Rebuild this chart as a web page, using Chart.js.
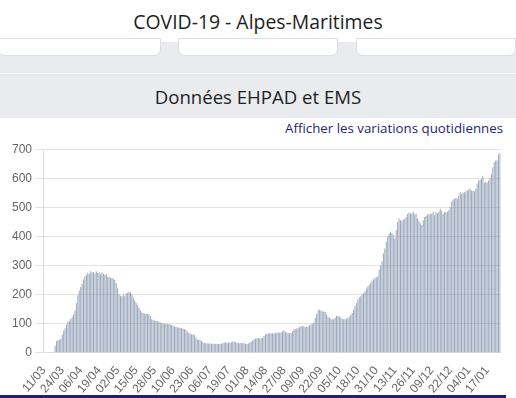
<!DOCTYPE html>
<html lang="fr">
<head>
<meta charset="utf-8">
<title>COVID-19 - Alpes-Maritimes</title>
<script src="https://cdn.jsdelivr.net/npm/chart.js@4"></script>
<style>
  html, body { margin: 0; padding: 0; background: #fff; }
  body { width: 516px; height: 398px; position: relative; overflow: hidden; font-family: "Open Sans", sans-serif; }
  .titre { position: absolute; top: 0; left: 0; width: 516px; height: 42px; line-height: 44px; text-align: center; font-size: 19.4px; font-weight: 500; color: #1e1e1e; }
  .bande { position: absolute; top: 42px; left: 0; width: 516px; height: 76px; background: #e9ebef; }
  .carte { position: absolute; top: -4px; height: 16px; background: #fff; border: 1px solid #dcdfe4; border-radius: 0 0 7px 7px; }
  .sep { position: absolute; top: 31px; left: 0; width: 516px; height: 1px; background: #f4f5f7; }
  .section { position: absolute; top: 32px; left: 0; width: 516px; height: 44px; line-height: 45px; text-align: center; font-size: 18.6px; font-weight: 500; color: #1e1e1e; }
  .lien { position: absolute; top: 119px; right: 13px; font-size: 13.3px; color: #1f1f75; }
  .bas { position: absolute; top: 395px; left: 0; width: 506px; height: 3px; background: #1f1f7a; }
  .graph { position: absolute; top: 139px; left: 0; width: 514px; height: 260px; }
</style>
</head>
<body>
<div class="titre">COVID-19 - Alpes-Maritimes</div>
<div class="bande">
  <div class="carte" style="left:-2px;width:161px"></div>
  <div class="carte" style="left:178px;width:158px"></div>
  <div class="carte" style="left:356px;width:158px"></div>
  <div class="sep"></div>
  <div class="section">Données EHPAD et EMS</div>
</div>
<div class="lien">Afficher les variations quotidiennes</div>
<div class="graph"><canvas id="ehpad"></canvas></div>
<div class="bas"></div>

<script>
// hospitalisations EHPAD/EMS, du 11/03/2020 au 26/01/2021
const debut = new Date(2020, 2, 11);

const mars = [null, null, null, null, null, null, null, null, 24, 40, 43, 45, 48, 62, 75, 84, 97, 106, 110, 116, 124];
const avril = [132, 145, 170, 198, 214, 226, 238, 252, 262, 268, 275, 272, 280, 276, 278, 272, 280, 274, 277, 270,
  276, 272, 268, 270, 262, 260, 258, 257, 255, 250];
const mai = [240, 222, 200, 196, 194, 200, 195, 204, 206, 209, 208, 200, 190, 180, 172, 163, 155, 146, 138, 136,
  135, 134, 133, 132, 126, 116, 112, 111, 109, 108, 107];
const juin = [104, 102, 101, 100, 100, 99, 98, 97, 95, 93, 90, 89, 88, 86, 85, 84, 83, 82, 78, 73,
  68, 65, 64, 63, 62, 52, 45, 45, 44, 40];
const juillet = [36, 34, 33, 33, 32, 32, 31, 31, 30, 31, 31, 30, 30, 32, 33, 34, 35, 34, 35, 34,
  36, 38, 39, 36, 34, 33, 33, 34, 33, 33, 31];
const aout = [30, 32, 35, 38, 42, 46, 48, 50, 51, 50, 49, 52, 58, 64, 65, 66, 67, 66, 67, 66,
  68, 70, 70, 69, 70, 74, 77, 72, 70, 68, 67];
const septembre = [68, 74, 80, 82, 84, 86, 88, 91, 92, 90, 88, 89, 90, 94, 97, 100, 103, 120, 133, 146,
  148, 145, 142, 143, 140, 132, 124, 120, 117, 115];
const octobre = [115, 120, 126, 126, 125, 120, 117, 115, 115, 117, 120, 124, 130, 137, 148, 160, 172, 183, 190, 194,
  200, 205, 211, 220, 228, 234, 240, 246, 252, 257, 260];
const novembre = [262, 285, 300, 314, 342, 359, 382, 399, 410, 416, 412, 405, 393, 422, 450, 461, 456, 453, 458, 461,
  467, 478, 482, 480, 478, 484, 475, 478, 461, 452];
const decembre = [445, 439, 456, 467, 470, 475, 476, 477, 478, 484, 473, 484, 480, 486, 495, 488, 478, 484, 482, 486,
  490, 501, 520, 527, 530, 532, 530, 541, 552, 546, 550];
const janvier = [552, 555, 558, 561, 564, 558, 556, 555, 564, 581, 592, 595, 598, 609, 585, 588, 585, 592, 600, 615,
  638, 655, 660, 662, 683, 687];

const valeurs = [].concat(mars, avril, mai, juin, juillet, aout, septembre, octobre, novembre, decembre, janvier);

const jours = valeurs.map((v, i) => {
  const d = new Date(debut.getFullYear(), debut.getMonth(), debut.getDate() + i);
  return String(d.getDate()).padStart(2, '0') + '/' + String(d.getMonth() + 1).padStart(2, '0');
});

const pasEtiquettes = 13;

new Chart(document.getElementById('ehpad'), {
  type: 'bar',
  data: {
    labels: jours,
    datasets: [{
      label: 'Hospitalisations',
      data: valeurs,
      backgroundColor: 'rgba(132,148,172,0.8)',
      borderWidth: 0
    }]
  },
  options: {
    responsive: true,
    maintainAspectRatio: false,
    animation: false,
    layout: { padding: { left: 9, right: 0, top: 0, bottom: 0 } },
    plugins: { legend: { display: false }, tooltip: { enabled: false } },
    scales: {
      x: {
        grid: { display: false },
        border: { color: '#ddd' },
        ticks: {
          autoSkip: false,
          maxRotation: 50,
          minRotation: 50,
          color: '#666',
          font: { family: 'Liberation Sans, Arial, sans-serif', size: 12 },
          callback: function(val, idx) { return idx % pasEtiquettes === 0 ? this.getLabelForValue(val) : ''; }
        }
      },
      y: {
        min: 0,
        max: 700,
        grid: { color: '#e2e2e2', drawTicks: true },
        border: { color: '#ddd' },
        ticks: {
          stepSize: 100,
          color: '#666',
          font: { family: 'Liberation Sans, Arial, sans-serif', size: 12 }
        }
      }
    }
  }
});
</script>
</body>
</html>
